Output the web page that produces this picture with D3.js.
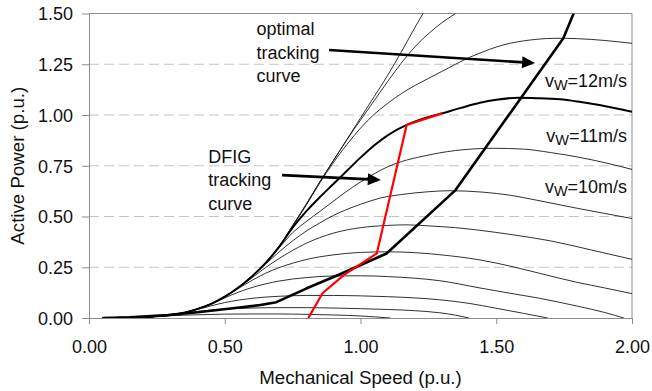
<!DOCTYPE html>
<html><head><meta charset="utf-8">
<script src="https://cdn.jsdelivr.net/npm/d3@7"></script>
<style>body{margin:0;background:#fff;} svg{display:block;font-family:Arial,"Liberation Sans",sans-serif;}</style>
</head><body><svg id="c" width="652" height="391"></svg>
<script>
// ---- data ----
const xTicks = [0, 0.5, 1.0, 1.5, 2.0];
const yTicks = [0, 0.25, 0.5, 0.75, 1.0, 1.25, 1.5];
const gridValues = [0.25, 0.5, 0.75, 1.0, 1.25];
const xTitle = "Mechanical Speed (p.u.)";
const yTitle = "Active Power (p.u.)";

// thin power curves (speed, power)
const curveA = [[0.05,0],[0.1,0.0005],[0.15,0.0015],[0.2,0.004],[0.25,0.008],[0.3,0.015],[0.35,0.026],[0.4,0.045],[0.45,0.07],[0.5,0.105],[0.55,0.15],[0.6,0.205],[0.65,0.272],[0.7,0.352],[0.75,0.455],[0.8,0.56],[0.85,0.67],[0.9,0.775],[0.95,0.88],[1.0,0.985],[1.05,1.09],[1.1,1.195],[1.15,1.31],[1.2,1.43],[1.25,1.545]];
const curveB = [[0.05,0],[0.1,0.0005],[0.15,0.0015],[0.2,0.004],[0.25,0.008],[0.3,0.015],[0.35,0.026],[0.4,0.045],[0.45,0.07],[0.5,0.105],[0.55,0.15],[0.6,0.205],[0.65,0.272],[0.7,0.352],[0.75,0.455],[0.8,0.56],[0.85,0.67],[0.9,0.775],[0.95,0.878],[1.0,0.975],[1.05,1.07],[1.1,1.165],[1.15,1.255],[1.2,1.335],[1.25,1.4],[1.3,1.455],[1.35,1.5],[1.4,1.545]];
const curveU = [[0.05,0],[0.1,0.0005],[0.15,0.0015],[0.2,0.004],[0.25,0.008],[0.3,0.015],[0.35,0.026],[0.4,0.045],[0.45,0.07],[0.5,0.105],[0.55,0.15],[0.6,0.205],[0.65,0.272],[0.7,0.35],[0.75,0.452],[0.8,0.555],[0.85,0.665],[0.9,0.765],[0.95,0.855],[1.0,0.935],[1.05,1.003],[1.1,1.057],[1.15,1.105],[1.2,1.145],[1.25,1.18],[1.3,1.215],[1.35,1.25],[1.4,1.283],[1.45,1.31],[1.5,1.335],[1.55,1.353],[1.6,1.365],[1.65,1.373],[1.72,1.378],[1.8,1.376],[1.9,1.367],[2.0,1.353]];
const curve10 = [[0.05,0],[0.1,0.0005],[0.15,0.0015],[0.2,0.004],[0.25,0.008],[0.3,0.015],[0.35,0.026],[0.4,0.045],[0.45,0.07],[0.5,0.105],[0.55,0.15],[0.6,0.204],[0.65,0.27],[0.7,0.345],[0.75,0.42],[0.8,0.475],[0.85,0.525],[0.9,0.575],[0.95,0.625],[1.0,0.67],[1.05,0.71],[1.1,0.745],[1.15,0.77],[1.23,0.797],[1.35,0.825],[1.49,0.836],[1.6,0.832],[1.7,0.815],[1.8,0.793],[1.9,0.765],[2.0,0.732]];
const curve9 = [[0.05,0],[0.1,0.0005],[0.15,0.0015],[0.2,0.004],[0.25,0.008],[0.3,0.015],[0.35,0.026],[0.4,0.045],[0.45,0.07],[0.5,0.105],[0.55,0.149],[0.6,0.203],[0.65,0.265],[0.7,0.325],[0.75,0.38],[0.8,0.428],[0.85,0.468],[0.9,0.505],[0.95,0.535],[1.0,0.56],[1.07,0.59],[1.15,0.608],[1.25,0.622],[1.33,0.627],[1.45,0.62],[1.55,0.605],[1.65,0.58],[1.8,0.54],[1.9,0.515],[2.0,0.49]];
const curve8 = [[0.05,0],[0.1,0.0005],[0.15,0.0015],[0.2,0.004],[0.25,0.008],[0.3,0.015],[0.35,0.026],[0.4,0.045],[0.45,0.07],[0.5,0.104],[0.55,0.148],[0.6,0.198],[0.65,0.248],[0.7,0.293],[0.75,0.333],[0.8,0.368],[0.85,0.396],[0.9,0.418],[1.0,0.445],[1.1,0.456],[1.17,0.459],[1.26,0.453],[1.35,0.445],[1.44,0.432],[1.55,0.412],[1.7,0.38],[1.85,0.335],[2.0,0.289]];
const curve7 = [[0.05,0],[0.1,0.0005],[0.15,0.0015],[0.2,0.004],[0.25,0.008],[0.3,0.015],[0.35,0.026],[0.4,0.045],[0.45,0.07],[0.5,0.103],[0.55,0.145],[0.6,0.185],[0.65,0.22],[0.7,0.248],[0.75,0.27],[0.8,0.288],[0.9,0.311],[1.0,0.323],[1.1,0.326],[1.2,0.322],[1.29,0.312],[1.44,0.286],[1.55,0.256],[1.66,0.22],[1.8,0.175],[1.9,0.148],[2.0,0.12]];
const curve6 = [[0.05,0],[0.1,0.0005],[0.15,0.0015],[0.2,0.004],[0.25,0.008],[0.3,0.015],[0.35,0.026],[0.4,0.044],[0.45,0.068],[0.5,0.099],[0.55,0.127],[0.6,0.15],[0.65,0.168],[0.7,0.182],[0.8,0.199],[0.9,0.207],[1.0,0.208],[1.1,0.204],[1.2,0.196],[1.29,0.184],[1.44,0.148],[1.55,0.122],[1.66,0.097],[1.8,0.058],[1.9,0.027],[1.97,0]];
const curve5 = [[0.05,0],[0.1,0.0005],[0.15,0.0015],[0.2,0.004],[0.25,0.008],[0.3,0.015],[0.35,0.025],[0.4,0.042],[0.45,0.06],[0.5,0.076],[0.55,0.088],[0.6,0.097],[0.7,0.107],[0.8,0.111],[0.9,0.111],[1.0,0.109],[1.1,0.105],[1.2,0.099],[1.29,0.09],[1.4,0.072],[1.5,0.048],[1.6,0.023],[1.69,0]];
const curve4 = [[0.05,0],[0.1,0.0005],[0.15,0.0015],[0.2,0.004],[0.25,0.008],[0.3,0.015],[0.35,0.024],[0.4,0.032],[0.45,0.039],[0.5,0.044],[0.6,0.049],[0.7,0.051],[0.8,0.051],[0.9,0.049],[1.0,0.046],[1.1,0.042],[1.2,0.036],[1.29,0.026],[1.35,0.014],[1.4,0]];
const curve3 = [[0.05,0],[0.1,0.0005],[0.15,0.0015],[0.2,0.004],[0.25,0.0075],[0.3,0.011],[0.35,0.014],[0.4,0.016],[0.5,0.019],[0.6,0.02],[0.7,0.02],[0.8,0.018],[0.9,0.015],[1.0,0.01],[1.11,0]];

// thick power curve (rated wind speed)
const curveThick = [[0.05,0],[0.1,0.0005],[0.15,0.0015],[0.2,0.004],[0.25,0.008],[0.3,0.015],[0.35,0.026],[0.4,0.045],[0.45,0.07],[0.5,0.105],[0.55,0.15],[0.6,0.205],[0.65,0.27],[0.7,0.35],[0.75,0.445],[0.8,0.525],[0.85,0.595],[0.9,0.66],[0.95,0.725],[1.0,0.79],[1.05,0.85],[1.1,0.9],[1.17,0.951],[1.23,0.982],[1.3,1.008],[1.37,1.035],[1.44,1.06],[1.5,1.075],[1.58,1.085],[1.65,1.083],[1.735,1.077],[1.8,1.066],[1.88,1.049],[2.0,1.016]];

// optimal tracking curve
const optimalCurve = [[0.05,0],[0.15,0.004],[0.29,0.015],[0.4,0.028],[0.53,0.048],[0.62,0.062],[0.69,0.078],[0.8,0.145],[0.92,0.213],[1.096,0.318],[1.35,0.63],[1.747,1.378],[1.785,1.5]];
// DFIG tracking curve
const dfigCurve = [[0.808,0],[0.86,0.122],[0.937,0.21],[1.06,0.318],[1.17,0.951],[1.3,1.008]];

const thinCurves = [curveA, curveB, curveU, curve10, curve9, curve8, curve7, curve6, curve5, curve4, curve3];

// annotations (data coordinates)
const optLabel = ["optimal", "tracking", "curve"];
const dfigLabel = ["DFIG", "tracking", "curve"];
const windLabels = [{v:"12", p:1.138}, {v:"11", p:0.866}, {v:"10", p:0.618}];
const optArrow = [[0.884,1.32],[1.643,1.256]];
const dfigArrow = [[0.711,0.704],[1.075,0.680]];

// ---- drawing ----
const svg = d3.select("#c");
const L = 89, R = 632, T = 13.5, B = 318;
const x = d3.scaleLinear().domain([0, 2]).range([L, R]);
const y = d3.scaleLinear().domain([0, 1.5]).range([B, T]);

svg.append("rect").attr("width",652).attr("height",391).attr("fill","#fff");

svg.append("defs").append("clipPath").attr("id","clip")
  .append("rect").attr("x",L).attr("y",T).attr("width",R-L).attr("height",B-T);

// grid
svg.append("g").selectAll("line").data(gridValues).join("line")
  .attr("x1",L).attr("x2",R).attr("y1",d=>y(d)).attr("y2",d=>y(d))
  .attr("stroke","#c4c4c4").attr("stroke-width",1).attr("stroke-dasharray","10,5");

// frame top/right
svg.append("line").attr("x1",L).attr("x2",R).attr("y1",T).attr("y2",T).attr("stroke","#8c8c8c");
svg.append("line").attr("x1",R).attr("x2",R).attr("y1",T).attr("y2",B).attr("stroke","#8c8c8c");

// axes
const fmt = d3.format(".2f");
const xAxis = svg.append("g").attr("transform",`translate(0,${B})`)
  .call(d3.axisBottom(x).tickValues(xTicks).tickFormat(fmt).tickSize(6).tickSizeOuter(0));
const yAxis = svg.append("g").attr("transform",`translate(${L},0)`)
  .call(d3.axisLeft(y).tickValues(yTicks).tickFormat(fmt).tickSize(7).tickSizeOuter(0));
[xAxis, yAxis].forEach(g => {
  g.select(".domain").attr("stroke","#8c8c8c");
  g.selectAll(".tick line").attr("stroke","#8c8c8c");
  g.selectAll(".tick text").attr("font-size",18).attr("fill","#111").attr("font-family","Arial, 'Liberation Sans', sans-serif");
});
xAxis.selectAll(".tick text").attr("dy",null).attr("y",35);
yAxis.selectAll(".tick text").attr("x",-16).attr("dy","0.35em");

// titles
svg.append("text").attr("x",(L+R)/2).attr("y",384).attr("text-anchor","middle")
  .attr("font-size",18.7).attr("fill","#111").text(xTitle);
svg.append("text").attr("transform",`translate(24,${(T+B)/2}) rotate(-90)`).attr("text-anchor","middle")
  .attr("font-size",18.7).attr("fill","#111").text(yTitle);

// curves
const line = d3.line().x(d=>x(d[0])).y(d=>y(d[1])).curve(d3.curveMonotoneX);
const lineLin = d3.line().x(d=>x(d[0])).y(d=>y(d[1]));
const plot = svg.append("g").attr("clip-path","url(#clip)");
plot.selectAll("path.thin").data(thinCurves).join("path").attr("class","thin")
  .attr("d", line).attr("fill","none").attr("stroke","#1a1a1a").attr("stroke-width",0.9);
plot.append("path").attr("d", line(curveThick)).attr("fill","none").attr("stroke","#000").attr("stroke-width",2);
plot.append("path").attr("d", lineLin(optimalCurve)).attr("fill","none").attr("stroke","#000").attr("stroke-width",2.6).attr("stroke-linejoin","round");
plot.append("path").attr("d", lineLin(dfigCurve)).attr("fill","none").attr("stroke","#ff0000").attr("stroke-width",2.2).attr("stroke-linejoin","round");

// arrows
function arrow(pts){
  const [p0,p1] = pts;
  const x0=x(p0[0]), y0=y(p0[1]), x1=x(p1[0]), y1=y(p1[1]);
  const ang = Math.atan2(y1-y0, x1-x0);
  const len = 13, hw = 6;
  const bx = x1 - len*Math.cos(ang), by = y1 - len*Math.sin(ang);
  svg.append("line").attr("x1",x0).attr("y1",y0).attr("x2",bx+2*Math.cos(ang)).attr("y2",by+2*Math.sin(ang))
    .attr("stroke","#000").attr("stroke-width",2.6);
  const pxp = -Math.sin(ang), pyp = Math.cos(ang);
  svg.append("path").attr("d",`M${x1},${y1}L${bx+hw*pxp},${by+hw*pyp}L${bx-hw*pxp},${by-hw*pyp}Z`).attr("fill","#000");
}
arrow(optArrow);
arrow(dfigArrow);

// annotation text
const optText = svg.append("text").attr("font-size",18).attr("fill","#111");
optLabel.forEach((t,i)=> optText.append("tspan").attr("x",x(0.617)).attr("y",y(1.394)+i*23.5).text(t));
const dfText = svg.append("text").attr("font-size",18).attr("fill","#111");
dfigLabel.forEach((t,i)=> dfText.append("tspan").attr("x",x(0.439)).attr("y",y(0.764)+i*23.5).text(t));

windLabels.forEach(w=>{
  const t = svg.append("text").attr("x",x(1.982)).attr("y",y(w.p)).attr("text-anchor","end")
    .attr("font-size",18).attr("fill","#111");
  t.append("tspan").text("v");
  t.append("tspan").attr("font-size",14.5).attr("dy",3).text("W");
  t.append("tspan").attr("dy",-3).text("=" + w.v + "m/s");
});
</script></body></html>
